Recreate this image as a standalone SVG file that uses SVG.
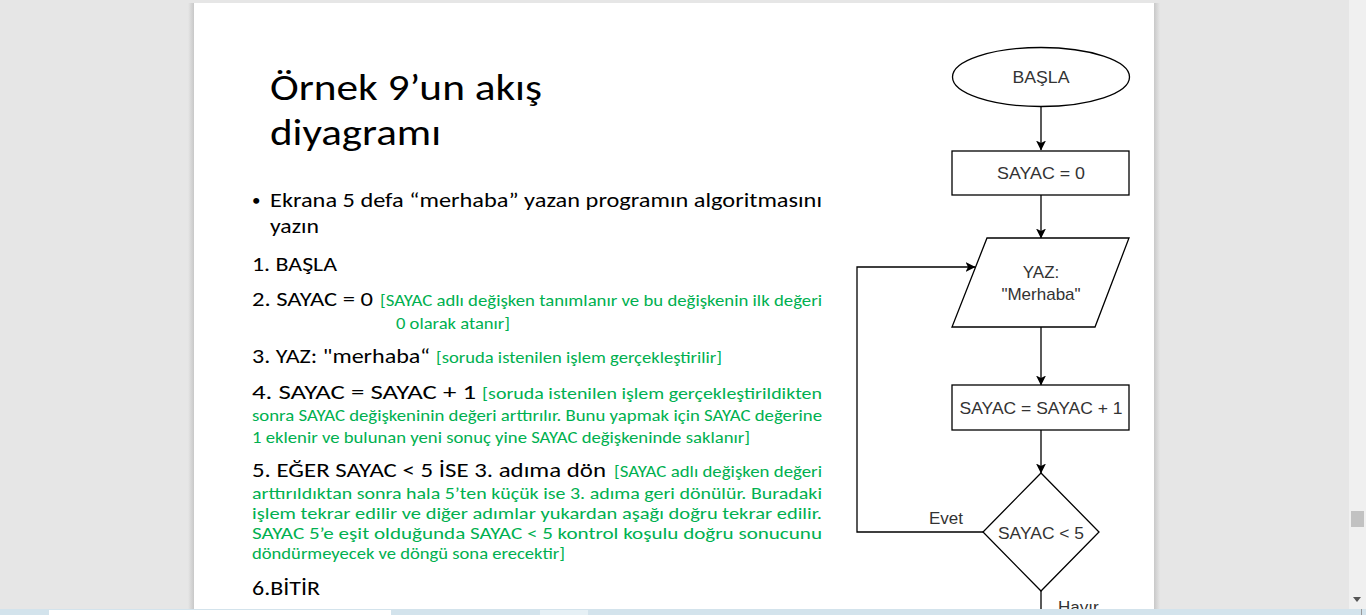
<svg xmlns="http://www.w3.org/2000/svg" width="1366" height="615" viewBox="0 0 1366 615">
<defs>
<marker id="arr" viewBox="0 0 10 10" refX="9.5" refY="5" markerWidth="10" markerHeight="10" markerUnits="userSpaceOnUse" orient="auto">
<path d="M0,0 L10,5 L0,10 L2.5,5 z" fill="#000"/>
</marker>
<linearGradient id="shL" x1="1" y1="0" x2="0" y2="0">
<stop offset="0" stop-color="#c8c8c8"/><stop offset="1" stop-color="#e6e6e6"/>
</linearGradient>
<linearGradient id="shR" x1="0" y1="0" x2="1" y2="0">
<stop offset="0" stop-color="#c8c8c8"/><stop offset="1" stop-color="#e6e6e6"/>
</linearGradient>
</defs>
<style>
.t{font-family:Carlito,Lato,"Open Sans","Noto Sans",sans-serif;fill:#000}
.g{font-family:Carlito,Lato,"Open Sans","Noto Sans",sans-serif;fill:#00b050;font-size:15.5px}
.b{font-size:21px}
.f{font-family:"Liberation Sans",Arial,sans-serif;fill:#333;font-size:17px;text-anchor:middle}
.shape{fill:#fff;stroke:#000;stroke-width:1.3}
.edge{fill:none;stroke:#000;stroke-width:1.3}
</style>
<!-- window background -->
<rect x="0" y="0" width="1366" height="615" fill="#e6e6e6"/>
<rect x="188" y="3" width="6" height="606" fill="url(#shL)"/>
<rect x="1154" y="3" width="6" height="606" fill="url(#shR)"/>
<rect x="194" y="3" width="960" height="606" fill="#fff"/>
<!-- scrollbar -->
<rect x="1349" y="0" width="17" height="609" fill="#f0f0f0"/>
<rect x="1351" y="511" width="13" height="16" fill="#c2c2c2"/>
<path d="M1353,597 L1361,597 L1357,602 z" fill="#555"/>

<!-- slide text -->
<g id="title" class="t" style="font-weight:300">
<text x="270" y="100" font-size="37" textLength="272" lengthAdjust="spacingAndGlyphs">Örnek 9’un akış</text>
<text x="270" y="145" font-size="37" textLength="171" lengthAdjust="spacingAndGlyphs">diyagramı</text>
</g>
<g id="body">
<text class="t" x="252" y="206" font-size="17">•</text>
<text class="t b" x="270" y="207" textLength="552" lengthAdjust="spacingAndGlyphs">Ekrana 5 defa “merhaba” yazan programın algoritmasını</text>
<text class="t b" x="270" y="233" textLength="49" lengthAdjust="spacingAndGlyphs">yazın</text>
<text class="t b" x="252" y="271" textLength="85" lengthAdjust="spacingAndGlyphs">1. BAŞLA</text>
<text class="t b" x="252" y="306" textLength="121" lengthAdjust="spacingAndGlyphs">2. SAYAC = 0</text>
<text class="g" x="380" y="306" textLength="442" lengthAdjust="spacingAndGlyphs">[SAYAC adlı değişken tanımlanır ve bu değişkenin ilk değeri</text>
<text class="g" x="396" y="329" textLength="114" lengthAdjust="spacingAndGlyphs">0 olarak atanır]</text>
<text class="t b" x="252" y="363" textLength="178" lengthAdjust="spacingAndGlyphs">3. YAZ: "merhaba“</text>
<text class="g" x="436" y="363" textLength="286" lengthAdjust="spacingAndGlyphs">[soruda istenilen işlem gerçekleştirilir]</text>
<text class="t b" x="252" y="399" textLength="224" lengthAdjust="spacingAndGlyphs">4. SAYAC  =  SAYAC  +  1</text>
<text class="g" x="482" y="399" textLength="340" lengthAdjust="spacingAndGlyphs">[soruda istenilen işlem gerçekleştirildikten</text>
<text class="g" x="252" y="421" textLength="570" lengthAdjust="spacingAndGlyphs">sonra SAYAC değişkeninin değeri arttırılır. Bunu yapmak için SAYAC değerine</text>
<text class="g" x="252" y="443" textLength="498" lengthAdjust="spacingAndGlyphs">1 eklenir ve bulunan yeni sonuç yine SAYAC değişkeninde saklanır]</text>
<text class="t b" x="252" y="477" textLength="354" lengthAdjust="spacingAndGlyphs">5. EĞER SAYAC &lt; 5 İSE 3. adıma dön</text>
<text class="g" x="614" y="477" textLength="208" lengthAdjust="spacingAndGlyphs">[SAYAC adlı değişken değeri</text>
<text class="g" x="252" y="499" textLength="570" lengthAdjust="spacingAndGlyphs">arttırıldıktan sonra hala 5’ten küçük ise 3. adıma geri dönülür. Buradaki</text>
<text class="g" x="252" y="519" textLength="570" lengthAdjust="spacingAndGlyphs">işlem tekrar edilir ve diğer adımlar yukardan aşağı doğru tekrar edilir.</text>
<text class="g" x="252" y="539" textLength="570" lengthAdjust="spacingAndGlyphs">SAYAC 5’e eşit olduğunda SAYAC &lt; 5 kontrol koşulu doğru sonucunu</text>
<text class="g" x="252" y="559" textLength="313" lengthAdjust="spacingAndGlyphs">döndürmeyecek ve döngü sona erecektir]</text>
<text class="t b" x="252" y="595" textLength="68" lengthAdjust="spacingAndGlyphs">6.BİTİR</text>
</g>

<!-- flowchart connectors -->
<g id="connectors">
<line class="edge" x1="1041" y1="106" x2="1041" y2="150" marker-end="url(#arr)"/>
<line class="edge" x1="1041" y1="195" x2="1041" y2="238" marker-end="url(#arr)"/>
<line class="edge" x1="1041" y1="327" x2="1041" y2="385" marker-end="url(#arr)"/>
<line class="edge" x1="1041" y1="430" x2="1041" y2="473" marker-end="url(#arr)"/>
<polyline class="edge" points="983,532 857,532 857,267 975,267" marker-end="url(#arr)"/>
<line class="edge" x1="1041" y1="591" x2="1041" y2="615"/>
<text class="f" x="946" y="524" textLength="34" lengthAdjust="spacingAndGlyphs">Evet</text>
<text class="f" x="1058" y="613" style="text-anchor:start">Hayır</text>
</g>

<!-- flowchart nodes -->
<g id="n-basla">
<ellipse class="shape" cx="1041" cy="77" rx="88.5" ry="29.5"/>
<text class="f" x="1041" y="83" textLength="57" lengthAdjust="spacingAndGlyphs">BAŞLA</text>
</g>
<g id="n-sayac0">
<rect class="shape" x="952" y="151" width="177" height="44"/>
<text class="f" x="1041" y="179" textLength="88" lengthAdjust="spacingAndGlyphs">SAYAC = 0</text>
</g>
<g id="n-yaz">
<polygon class="shape" points="987,238 1129,238 1095,327 952,327"/>
<text class="f" x="1041" y="278">YAZ:</text>
<text class="f" x="1041" y="300">"Merhaba"</text>
</g>
<g id="n-inc">
<rect class="shape" x="952" y="385" width="177" height="45"/>
<text class="f" x="1041" y="414" textLength="163" lengthAdjust="spacingAndGlyphs">SAYAC = SAYAC + 1</text>
</g>
<g id="n-cond">
<polygon class="shape" points="1041,473 1099,532 1041,591 983,532"/>
<text class="f" x="1041" y="539" textLength="86" lengthAdjust="spacingAndGlyphs">SAYAC &lt; 5</text>
</g>

<!-- bottom taskbar strip -->
<rect x="0" y="609" width="1366" height="6" fill="#d3e3ec"/>
<rect x="49" y="610" width="342" height="5" fill="#fff"/>
<rect x="540" y="610" width="48" height="5" fill="#e6f0f5"/>
<rect x="1361" y="609" width="1" height="6" fill="#999"/>
</svg>
